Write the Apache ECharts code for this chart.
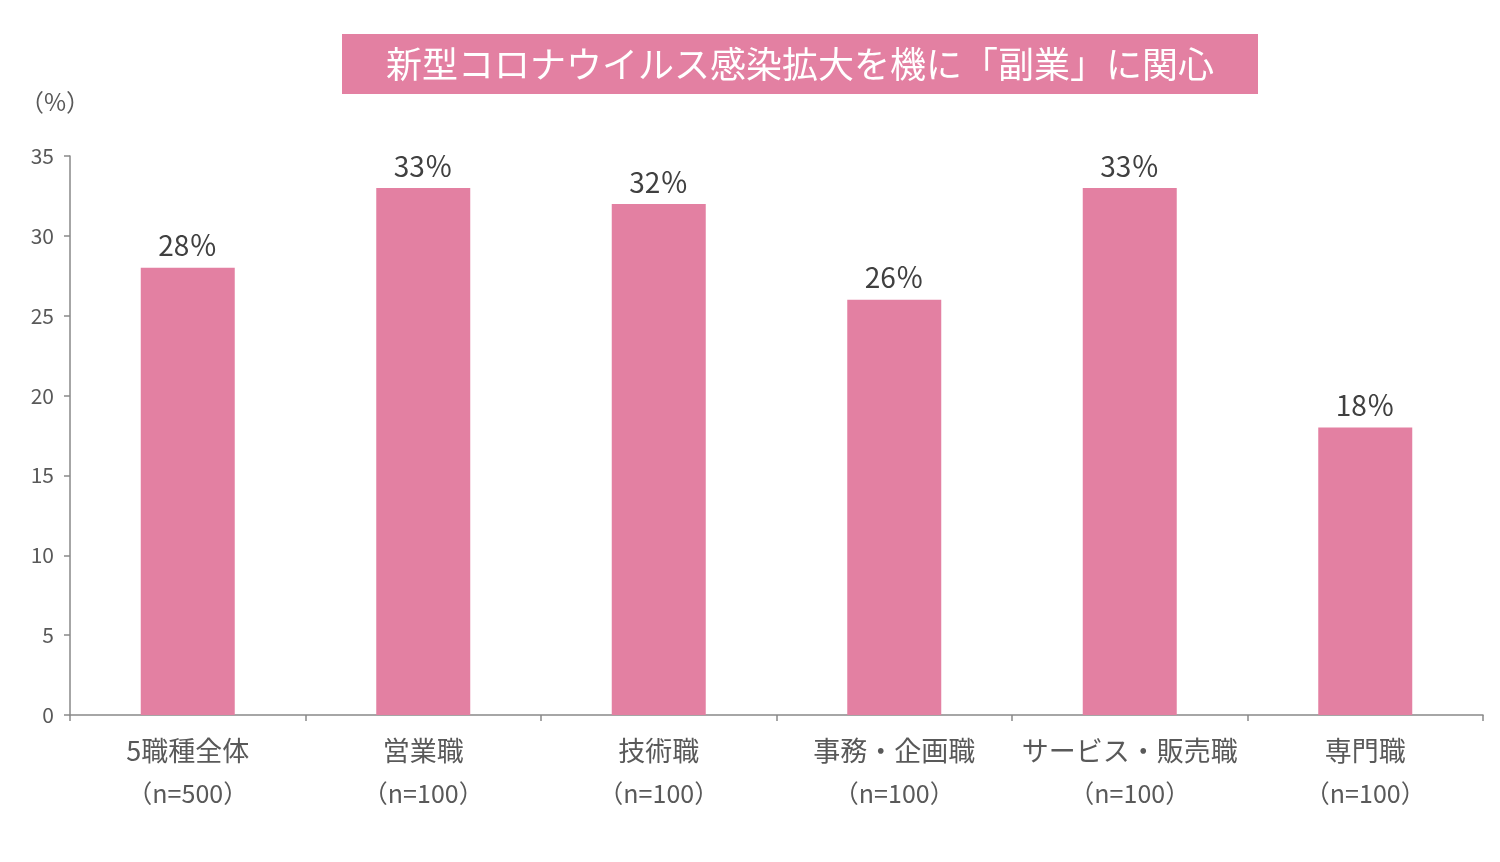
<!DOCTYPE html>
<html><head><meta charset="utf-8">
<script src="https://cdn.jsdelivr.net/npm/echarts@6/dist/echarts.min.js"></script>
<style>html,body{margin:0;padding:0;background:#fff}#c{width:1500px;height:862px}</style>
</head><body><div id="c"></div>
<script>
const categories = ['5職種全体', '営業職', '技術職', '事務・企画職', 'サービス・販売職', '専門職'];
const sampleSizes = ['（n=500）', '（n=100）', '（n=100）', '（n=100）', '（n=100）', '（n=100）'];
const values = [28, 33, 32, 26, 33, 18];
const yTicks = [0, 5, 10, 15, 20, 25, 30, 35];
const titleText = '新型コロナウイルス感染拡大を機に「副業」に関心';

const FONT = '"Noto Sans CJK JP", "Noto Sans", sans-serif';
const PINK = '#E380A2';
const chart = echarts.init(document.getElementById('c'));
chart.setOption({
  animation: false,
  textStyle: { fontFamily: FONT },
  title: {
    text: titleText,
    left: 342, top: 34,
    backgroundColor: PINK,
    padding: [10, 44, 10, 44],
    textStyle: { color: '#fff', fontSize: 36, fontWeight: 'normal', fontFamily: FONT, lineHeight: 40 }
  },
  grid: { left: 70, right: 17, top: 156, bottom: 147 },
  xAxis: {
    type: 'category',
    data: categories.map((c, i) => c + '\n' + sampleSizes[i]),
    axisLine: { lineStyle: { color: '#898989', width: 1.5 } },
    axisTick: { show: true, interval: 0, length: 6, lineStyle: { color: '#898989', width: 1.5 } },
    axisLabel: {
      interval: 0,
      color: '#595959', fontSize: 26, fontFamily: FONT, margin: 14,
      formatter: v => { const p = v.split('\n'); return '{a|' + p[0] + '}\n{b|' + p[1] + '}'; },
      rich: {
        a: { fontSize: 27, color: '#595959', lineHeight: 43, fontFamily: FONT },
        b: { fontSize: 25, color: '#595959', lineHeight: 43, fontFamily: FONT }
      }
    }
  },
  yAxis: {
    type: 'value', min: yTicks[0], max: yTicks[yTicks.length - 1], interval: 5,
    name: '（%）', nameLocation: 'end', nameGap: 42,
    nameTextStyle: { color: '#595959', fontSize: 24, fontFamily: FONT, padding: [0, 30, 0, 0] },
    axisLine: { show: true, lineStyle: { color: '#898989', width: 1.5 } },
    axisTick: { show: true, length: 6, lineStyle: { color: '#898989', width: 1.5 } },
    splitLine: { show: false },
    axisLabel: { color: '#595959', fontSize: 21, margin: 16, fontFamily: FONT }
  },
  series: [{
    type: 'bar',
    data: values,
    barWidth: 94,
    itemStyle: { color: PINK },
    label: {
      show: true, position: 'top', distance: 8,
      formatter: p => p.value + '％',
      color: '#404040', fontSize: 28, fontFamily: FONT
    }
  }]
});
</script></body></html>
